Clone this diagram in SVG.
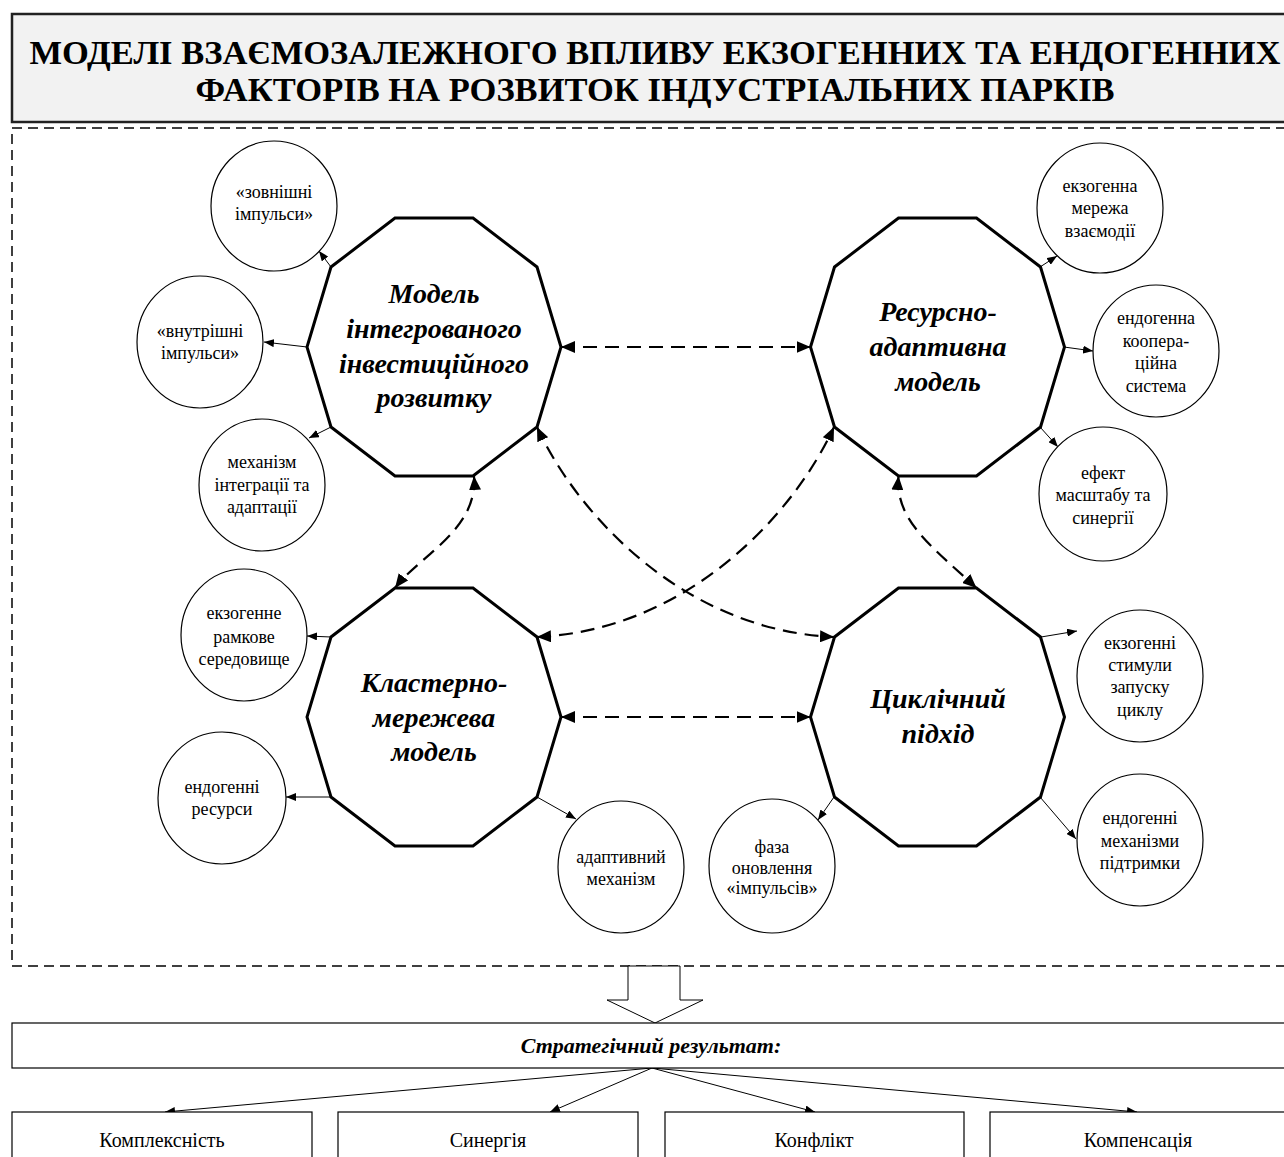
<svg xmlns="http://www.w3.org/2000/svg" width="1284" height="1157" viewBox="0 0 1284 1157">
<style>
.serif{font-family:"Liberation Serif","Times New Roman",serif;fill:#000}
.title{font-size:34.5px;font-weight:bold;text-anchor:middle}
.model{font-size:28px;font-weight:bold;font-style:italic;text-anchor:middle}
.small{font-size:18px;text-anchor:middle}
.res{font-size:22px;font-weight:bold;font-style:italic;text-anchor:middle}
.item{font-size:20px;text-anchor:middle}
.dec{fill:#fff;stroke:#000;stroke-width:3;stroke-linejoin:miter}
.circ{fill:#fff;stroke:#000;stroke-width:1.2}
.thin{fill:none;stroke:#000;stroke-width:1;marker-end:url(#sa)}
.dash{fill:none;stroke:#000;stroke-width:2.2;stroke-dasharray:14 8;marker-start:url(#ba);marker-end:url(#ba)}
.box{fill:#fff;stroke:#000;stroke-width:1.2}
</style>
<defs>
<marker id="ba" markerUnits="userSpaceOnUse" markerWidth="14" markerHeight="12" refX="14" refY="6" orient="auto-start-reverse"><path d="M0,0 L14,6 L0,12 z" fill="#000"/></marker>
<marker id="sa" markerUnits="userSpaceOnUse" markerWidth="10" markerHeight="8" refX="10" refY="4" orient="auto"><path d="M0,0 L10,4 L0,8 z" fill="#000"/></marker>
<polygon id="deca" points="-39,-129 39,-129 103,-80 127,0 103,80 39,129 -39,129 -103,80 -127,0 -103,-80"/>
</defs>

<g id="title">
<rect x="12" y="14" width="1290" height="108" fill="#f2f2f2" stroke="#222" stroke-width="2.5"/>
<text class="serif title" x="655" y="64">МОДЕЛІ ВЗАЄМОЗАЛЕЖНОГО ВПЛИВУ ЕКЗОГЕННИХ ТА ЕНДОГЕННИХ</text>
<text class="serif title" x="655" y="101">ФАКТОРІВ НА РОЗВИТОК ІНДУСТРІАЛЬНИХ ПАРКІВ</text>
</g>

<g id="frame">
<rect x="12" y="128" width="1290" height="838" fill="none" stroke="#000" stroke-width="1.5" stroke-dasharray="10 6"/>
</g>

<g id="connectors">
<path class="thin" d="M331,267 L319,251"/>
<path class="thin" d="M307,347 L264,342"/>
<path class="thin" d="M331,427 L309,438"/>
<path class="thin" d="M1040,267 L1057,256"/>
<path class="thin" d="M1064,347 L1093,351"/>
<path class="thin" d="M1040,427 L1058,447"/>
<path class="thin" d="M331,637 L307,636"/>
<path class="thin" d="M331,797 L286,797"/>
<path class="thin" d="M537,797 L576,819"/>
<path class="thin" d="M1041,637 L1077,631"/>
<path class="thin" d="M1040,797 L1076,839"/>
<path class="thin" d="M834,797 L818,820"/>
<path class="dash" d="M561,347 L810.5,347"/>
<path class="dash" d="M561,717 L810.5,717"/>
<path class="dash" d="M537,427 C575,510 680,630 834,637"/>
<path class="dash" d="M537,637 C691,630 796,510 834,427"/>
<path class="dash" d="M474,476 C478,530 420,555 395,588"/>
<path class="dash" d="M898.5,476 C895,520 930,545 976.5,588"/>
<path class="thin" d="M652,1068 L165,1112"/>
<path class="thin" d="M652,1068 L550,1112"/>
<path class="thin" d="M652,1068 L815,1112"/>
<path class="thin" d="M652,1068 L1137,1112"/>
</g>

<g id="model-integrated">
<use href="#deca" class="dec" transform="translate(434,347)"/>
<text class="serif model" x="434" y="303">Модель</text>
<text class="serif model" x="434" y="338">інтегрованого</text>
<text class="serif model" x="434" y="373">інвестиційного</text>
<text class="serif model" x="434" y="407">розвитку</text>
</g>
<g id="model-resource">
<use href="#deca" class="dec" transform="translate(937.5,347)"/>
<text class="serif model" x="938" y="321">Ресурсно-</text>
<text class="serif model" x="938" y="356">адаптивна</text>
<text class="serif model" x="938" y="391">модель</text>
</g>
<g id="model-cluster">
<use href="#deca" class="dec" transform="translate(434,717)"/>
<text class="serif model" x="434" y="692">Кластерно-</text>
<text class="serif model" x="434" y="727">мережева</text>
<text class="serif model" x="434" y="761">модель</text>
</g>
<g id="model-cyclic">
<use href="#deca" class="dec" transform="translate(937.5,717)"/>
<text class="serif model" x="938" y="708">Циклічний</text>
<text class="serif model" x="938" y="743">підхід</text>
</g>

<g id="c-external">
<ellipse class="circ" cx="274" cy="206" rx="63" ry="65"/>
<text class="serif small" x="274" y="198">«зовнішні</text>
<text class="serif small" x="274" y="220">імпульси»</text>
</g>
<g id="c-internal">
<ellipse class="circ" cx="200" cy="342" rx="63" ry="66"/>
<text class="serif small" x="200" y="337">«внутрішні</text>
<text class="serif small" x="200" y="359">імпульси»</text>
</g>
<g id="c-mechanism">
<ellipse class="circ" cx="262" cy="485" rx="63" ry="66"/>
<text class="serif small" x="262" y="468">механізм</text>
<text class="serif small" x="262" y="491">інтеграції та</text>
<text class="serif small" x="262" y="513">адаптації</text>
</g>
<g id="c-exo-network">
<ellipse class="circ" cx="1100" cy="208" rx="63" ry="65"/>
<text class="serif small" x="1100" y="192">екзогенна</text>
<text class="serif small" x="1100" y="214">мережа</text>
<text class="serif small" x="1100" y="237">взаємодії</text>
</g>
<g id="c-endo-coop">
<ellipse class="circ" cx="1156" cy="351" rx="63" ry="66"/>
<text class="serif small" x="1156" y="324">ендогенна</text>
<text class="serif small" x="1156" y="347">коопера-</text>
<text class="serif small" x="1156" y="369">ційна</text>
<text class="serif small" x="1156" y="392">система</text>
</g>
<g id="c-scale">
<ellipse class="circ" cx="1103" cy="494" rx="64" ry="67"/>
<text class="serif small" x="1103" y="479">ефект</text>
<text class="serif small" x="1103" y="501">масштабу та</text>
<text class="serif small" x="1103" y="524">синергії</text>
</g>
<g id="c-exo-frame">
<ellipse class="circ" cx="244" cy="635" rx="63" ry="66"/>
<text class="serif small" x="244" y="619">екзогенне</text>
<text class="serif small" x="244" y="643">рамкове</text>
<text class="serif small" x="244" y="665">середовище</text>
</g>
<g id="c-endo-res">
<ellipse class="circ" cx="222" cy="798" rx="64" ry="66"/>
<text class="serif small" x="222" y="793">ендогенні</text>
<text class="serif small" x="222" y="815">ресурси</text>
</g>
<g id="c-adaptive">
<ellipse class="circ" cx="621" cy="867" rx="63" ry="66"/>
<text class="serif small" x="621" y="863">адаптивний</text>
<text class="serif small" x="621" y="885">механізм</text>
</g>
<g id="c-exo-stimuli">
<ellipse class="circ" cx="1140" cy="676" rx="63" ry="66"/>
<text class="serif small" x="1140" y="649">екзогенні</text>
<text class="serif small" x="1140" y="671">стимули</text>
<text class="serif small" x="1140" y="693">запуску</text>
<text class="serif small" x="1140" y="716">циклу</text>
</g>
<g id="c-endo-support">
<ellipse class="circ" cx="1140" cy="840" rx="63" ry="66"/>
<text class="serif small" x="1140" y="824">ендогенні</text>
<text class="serif small" x="1140" y="847">механізми</text>
<text class="serif small" x="1140" y="869">підтримки</text>
</g>
<g id="c-renewal">
<ellipse class="circ" cx="772" cy="866" rx="63" ry="67"/>
<text class="serif small" x="772" y="853">фаза</text>
<text class="serif small" x="772" y="874">оновлення</text>
<text class="serif small" x="772" y="894">«імпульсів»</text>
</g>

<g id="block-arrow">
<polygon points="628,966 680,966 680,1000 703,1000 655,1023 607,1000 628,1000" fill="#fff" stroke="#000" stroke-width="1"/>
</g>
<g id="result">
<rect class="box" x="12" y="1023" width="1290" height="45"/>
<text class="serif res" x="651" y="1053">Стратегічний результат:</text>
</g>
<g id="r-complexity">
<rect class="box" x="12" y="1112" width="300" height="60"/>
<text class="serif item" x="162" y="1147">Комплексність</text>
</g>
<g id="r-synergy">
<rect class="box" x="338" y="1112" width="300" height="60"/>
<text class="serif item" x="488" y="1147">Синергія</text>
</g>
<g id="r-conflict">
<rect class="box" x="665" y="1112" width="299" height="60"/>
<text class="serif item" x="814" y="1147">Конфлікт</text>
</g>
<g id="r-compensation">
<rect class="box" x="990" y="1112" width="300" height="60"/>
<text class="serif item" x="1138" y="1147">Компенсація</text>
</g>
</svg>
